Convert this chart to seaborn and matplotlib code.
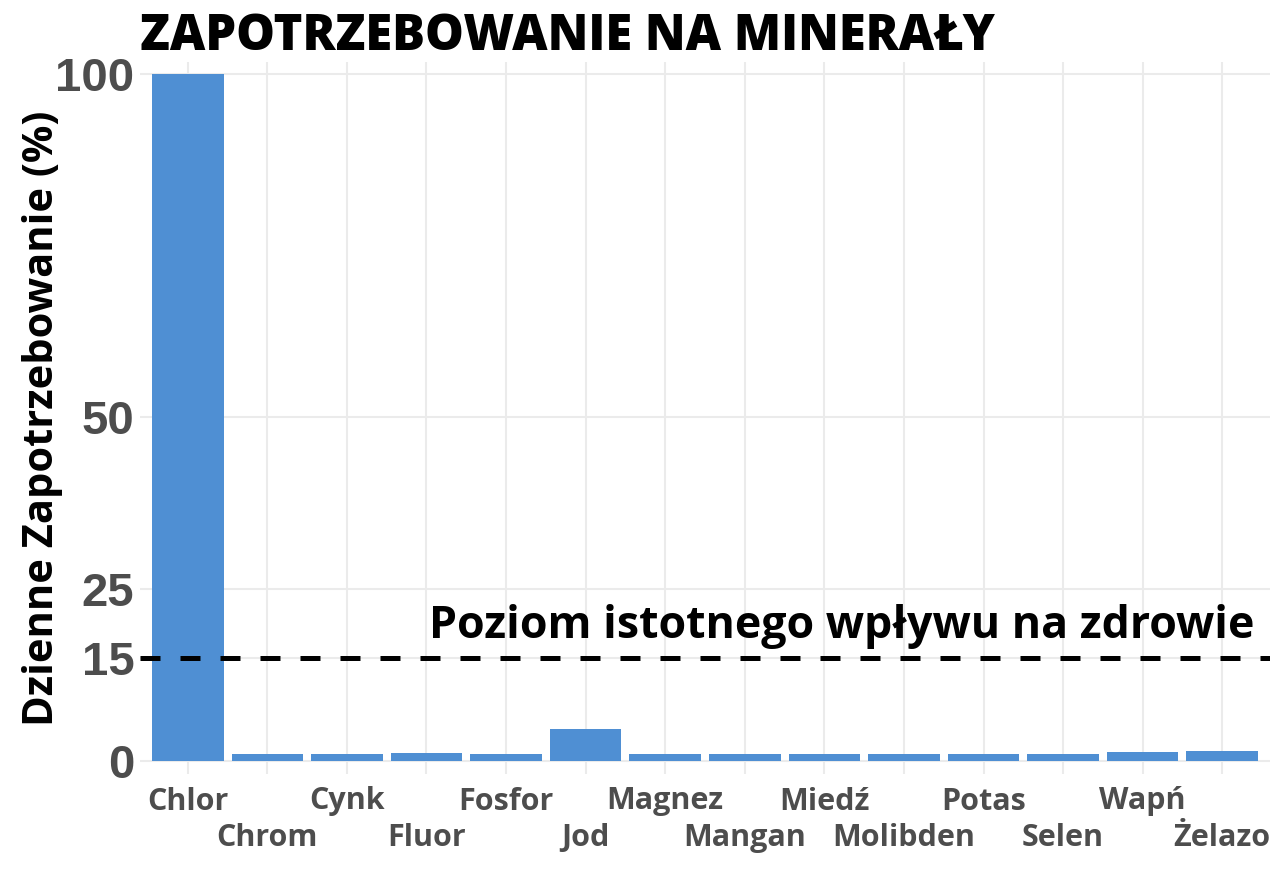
import matplotlib
matplotlib.use("Agg")
import matplotlib.pyplot as plt
import seaborn as sns
import pandas as pd

minerals = ["Chlor", "Chrom", "Cynk", "Fluor", "Fosfor", "Jod", "Magnez",
            "Mangan", "Miedź", "Molibden", "Potas", "Selen", "Wapń", "Żelazo"]
values = [100, 1.0, 1.0, 1.1, 1.0, 4.6, 1.0, 1.0, 1.0, 1.0, 1.0, 1.0, 1.3, 1.35]
y_ticks = [0, 15, 25, 50, 100]
threshold = 15
title = "ZAPOTRZEBOWANIE NA MINERAŁY"
ylabel = "Dzienne Zapotrzebowanie (%)"
note = "Poziom istotnego wpływu na zdrowie"

df = pd.DataFrame({"mineral": minerals, "value": values})

sns.set_theme(style="white")
plt.rcParams['font.family'] = ['Open Sans', 'DejaVu Sans']

fig = plt.figure(figsize=(12.8, 8.73), dpi=100)
ax = fig.add_axes([140/1280, 1-774/873, 1130/1280, 712/873])

# grid
for i in range(len(minerals)):
    ax.axvline(i, color="#ebebeb", lw=1.5, zorder=0)
for t in y_ticks:
    ax.axhline(t, color="#ebebeb", lw=1.5, zorder=0)

sns.barplot(data=df, x="mineral", y="value", order=minerals, color="#4f8fd3",
            saturation=1, width=0.9, ax=ax, zorder=2, edgecolor="none")

ax.axhline(threshold, color="black", lw=3.6, dashes=(4, 4), zorder=3)
ax.text(13.4, 17.9, note, ha="right", va="baseline", fontsize=32.2,
        fontweight="bold", color="black", zorder=4)

ax.set_xlim(-0.6, 13.6)
ax.set_ylim(-1.95, 101.75)
ax.set_yticks(y_ticks)
ax.set_yticklabels([str(t) for t in y_ticks], family="Liberation Sans",
                   fontweight="bold", fontsize=34, color="#4d4d4d")

even = list(range(0, len(minerals), 2))
odd = list(range(1, len(minerals), 2))
ax.set_xticks(even)
ax.set_xticklabels([minerals[i] for i in even], fontsize=22, fontweight="bold",
                   color="#4d4d4d")
ax.set_xticks(odd, minor=True)
ax.set_xticklabels([minerals[i] for i in odd], minor=True, fontsize=22,
                   fontweight="bold", color="#4d4d4d")
ax.tick_params(axis="both", which="both", length=0)
ax.tick_params(axis="y", pad=4)
ax.tick_params(axis="x", which="major", pad=9)
ax.tick_params(axis="x", which="minor", pad=9 + 26.6)
for s in ax.spines.values():
    s.set_visible(False)
ax.set_xlabel("")
ax.set_ylabel(ylabel, fontsize=30, fontweight="bold", color="black")
ax.yaxis.set_label_coords(-0.068, 0.5)

fig.text(140/1280, 1-50/873, title, fontsize=35.2, fontweight="heavy",
         color="black", ha="left", va="baseline")

fig.savefig("out.png", dpi=100)
